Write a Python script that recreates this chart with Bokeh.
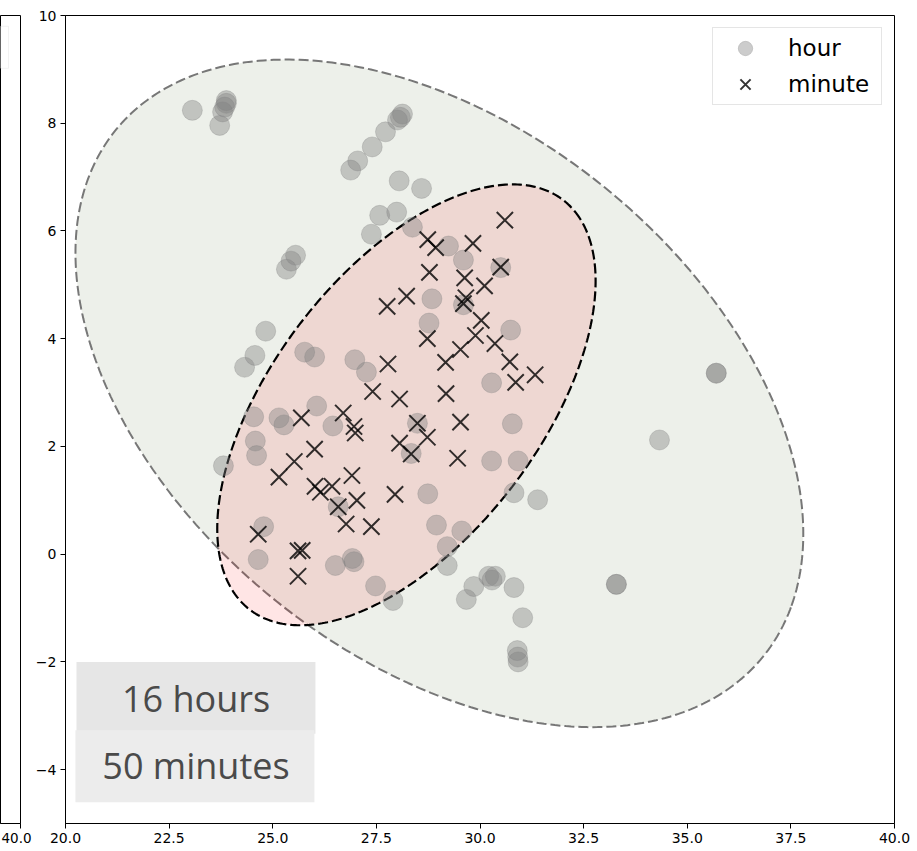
import numpy as np
from bokeh.plotting import figure
from bokeh.layouts import row
from bokeh.models import (FixedTicker, Legend, LegendItem, Label, BoxAnnotation,
                          NumeralTickFormatter, Range1d, Title)
from bokeh.embed import file_html
from bokeh.resources import INLINE

# ---------------- data ----------------
hour_x = [23.06, 23.72, 23.79, 23.84, 23.88, 23.88, 27.72, 28.01, 28.08, 28.13,
          27.40, 27.05, 26.88, 28.05, 28.59, 27.58, 27.99, 27.38, 28.37, 29.24,
          29.60, 25.55, 25.44, 25.33, 24.83, 24.57, 24.32, 25.77, 26.01, 26.98,
          27.26, 28.84, 28.77, 29.60, 30.50, 30.74, 30.28, 26.06, 24.54, 25.15,
          25.27, 26.45, 28.49, 30.78, 24.58, 24.61, 28.34, 30.28, 30.92, 23.81,
          28.74, 30.82, 31.39, 26.58, 24.78, 28.95, 29.56, 29.21, 24.65, 26.51,
          26.92, 26.96, 29.21, 27.48, 27.90, 30.21, 30.37, 30.29, 29.85, 29.67,
          30.82, 31.03, 30.90, 30.91, 30.92, 35.70, 35.70, 34.33, 33.29, 33.29]
hour_y = [8.24, 7.96, 8.21, 8.30, 8.37, 8.42, 7.84, 8.06, 8.11, 8.17,
          7.56, 7.30, 7.13, 6.93, 6.79, 6.29, 6.35, 5.94, 6.07, 5.72,
          5.46, 5.55, 5.44, 5.29, 4.14, 3.69, 3.47, 3.75, 3.66, 3.61,
          3.38, 4.74, 4.29, 4.63, 5.32, 4.16, 3.18, 2.75, 2.55, 2.53,
          2.40, 2.38, 2.43, 2.42, 2.10, 1.83, 1.87, 1.73, 1.73, 1.64,
          1.12, 1.14, 1.01, 0.88, 0.51, 0.54, 0.43, 0.14, -0.10, -0.21,
          -0.08, -0.14, -0.21, -0.59, -0.86, -0.41, -0.41, -0.48, -0.60, -0.84,
          -0.62, -1.18, -1.79, -1.91, -2.00, 3.36, 3.36, 2.12, -0.56, -0.56]

minute_x = [30.60, 28.74, 28.93, 29.83, 28.78, 29.63, 30.50, 30.11, 29.66, 29.60,
            28.23, 27.76, 30.03, 29.89, 29.53, 30.36, 28.73, 29.17, 30.72, 30.86,
            31.33, 27.78, 27.41, 28.06, 29.18, 25.69, 26.70, 26.96, 26.99, 28.49,
            29.53, 28.73, 28.06, 28.34, 29.46, 26.01, 25.52, 25.15, 26.02, 26.43,
            26.91, 26.15, 27.95, 27.03, 26.58, 26.77, 27.38, 24.65, 25.61, 25.71,
            25.61]
minute_y = [6.20, 5.84, 5.69, 5.77, 5.23, 5.13, 5.33, 4.98, 4.76, 4.65,
            4.79, 4.60, 4.34, 4.06, 3.80, 3.91, 4.00, 3.56, 3.57, 3.19,
            3.33, 3.53, 3.02, 2.88, 2.98, 2.53, 2.62, 2.37, 2.25, 2.43,
            2.45, 2.17, 2.06, 1.86, 1.78, 1.95, 1.72, 1.43, 1.26, 1.26,
            1.46, 1.15, 1.11, 1.00, 0.88, 0.56, 0.51, 0.37, 0.06, 0.07,
            -0.41]

# Gaussian ellipses: centre, full width, full height, angle (deg)
hour_ell_center = (29.02, 2.985)
hour_ell_size = (18.73, 10.54)
hour_ell_angle = -24.9
minute_ell_center = (28.225, 2.7725)
minute_ell_size = (10.86, 5.69)
minute_ell_angle = 39.5

x_ticks = [20.0, 22.5, 25.0, 27.5, 30.0, 32.5, 35.0, 37.5, 40.0]
y_ticks = [-4, -2, 0, 2, 4, 6, 8, 10]
series_names = ["hour", "minute"]
caption_lines = ["16 hours", "50 minutes"]
neighbour_tick = 40.0
neighbour_tick_label = "40.0"


def ellipse_outline(center, size, angle_deg, n=400):
    t = np.linspace(0, 2 * np.pi, n)
    a = np.deg2rad(angle_deg)
    ex = size[0] / 2 * np.cos(t)
    ey = size[1] / 2 * np.sin(t)
    xs = center[0] + ex * np.cos(a) - ey * np.sin(a)
    ys = center[1] + ex * np.sin(a) + ey * np.cos(a)
    return xs, ys


def style_axis(ax):
    ax.axis_line_color = "black"
    ax.axis_line_width = 1
    ax.major_tick_line_color = "black"
    ax.major_tick_out = 5
    ax.major_tick_in = 0
    ax.minor_tick_line_color = None
    ax.major_label_text_font = "DejaVu Sans"
    ax.major_label_text_font_size = "14px"
    ax.major_label_text_color = "black"
    ax.major_label_standoff = 4


# ---------------- main figure ----------------
p = figure(width=885, height=851, x_range=Range1d(20, 40), y_range=Range1d(-5, 10),
           output_backend="svg", toolbar_location=None,
           min_border_left=33, min_border_right=23, min_border_top=15, min_border_bottom=28)
p.grid.visible = False
p.outline_line_color = "black"
p.outline_line_width = 1
p.background_fill_color = "white"
p.border_fill_color = "white"

style_axis(p.xaxis[0])
style_axis(p.yaxis[0])
p.xaxis.ticker = FixedTicker(ticks=x_ticks)
p.xaxis.formatter = NumeralTickFormatter(format="0.0")
p.yaxis.ticker = FixedTicker(ticks=y_ticks)
p.yaxis.major_label_overrides = {-4: "\u22124", -2: "\u22122"}

hx, hy = ellipse_outline(hour_ell_center, hour_ell_size, hour_ell_angle)
p.patch(hx, hy, fill_color="#edf0ea", fill_alpha=1.0,
        line_color="#777777", line_width=2, line_dash="10 4")
mx, my = ellipse_outline(minute_ell_center, minute_ell_size, minute_ell_angle)
p.patch(mx, my, fill_color="red", fill_alpha=0.1,
        line_color="black", line_width=2.2, line_dash="10 4")

r_hour = p.scatter(hour_x, hour_y, marker="circle", size=20,
                   fill_color="grey", fill_alpha=0.4, line_color="grey", line_alpha=0.3)
r_min = p.scatter(minute_x, minute_y, marker="x", size=23,
                  line_color="black", line_alpha=0.8, line_width=2)

legend = Legend(items=[LegendItem(label=series_names[0], renderers=[r_hour]),
                       LegendItem(label=series_names[1], renderers=[r_min])],
                location="top_right", margin=12, padding=2, spacing=-1,
                glyph_width=60, glyph_height=36, label_height=36, label_width=91,
                label_standoff=13,
                label_text_font="DejaVu Sans", label_text_font_size="23px",
                label_text_color="black",
                border_line_color="#cccccc", border_line_width=1,
                background_fill_color="white", background_fill_alpha=0.8)
p.add_layout(legend)

# caption boxes
p.add_layout(BoxAnnotation(left=20.265, right=26.03, top=-2.002, bottom=-3.333,
                           fill_color="#e6e6e6", fill_alpha=1, line_color=None))
p.add_layout(BoxAnnotation(left=20.24, right=26.005, top=-3.271, bottom=-4.604,
                           fill_color="#ececec", fill_alpha=1, line_color=None))
p.add_layout(Label(x=23.148, y=-2.68, text=caption_lines[0], text_align="center",
                   text_baseline="alphabetic", text_font="Open Sans",
                   text_font_size="36px", text_color="#4a4a4a"))
p.add_layout(Label(x=23.148, y=-3.93, text=caption_lines[1], text_align="center",
                   text_baseline="alphabetic", text_font="Open Sans",
                   text_font_size="36px", text_color="#4a4a4a"))

# ---------------- left sliver (edge of the neighbouring subplot) ----------------
pl = figure(width=32, height=851, x_range=Range1d(20, 40), y_range=Range1d(-5, 10),
            output_backend="svg", toolbar_location=None,
            min_border_left=0, min_border_right=12, min_border_top=15, min_border_bottom=28)
pl.grid.visible = False
pl.yaxis.visible = False
pl.outline_line_color = "black"
pl.outline_line_width = 1
xa = pl.xaxis[0]
xa.ticker = FixedTicker(ticks=[], minor_ticks=[neighbour_tick])
xa.axis_line_color = "black"
xa.major_tick_line_color = None
xa.minor_tick_line_color = "black"
xa.minor_tick_out = 5
xa.minor_tick_in = 0
xa.major_label_standoff = 0
pl.add_layout(BoxAnnotation(left=10, right=28, top=9.80, bottom=9.02,
                            fill_color="white", fill_alpha=0.8,
                            line_color="#d5d5d5", line_width=1))
pl.add_layout(Title(text=neighbour_tick_label, align="left", offset=1, standoff=4,
                    text_font="DejaVu Sans", text_font_size="13.5px",
                    text_font_style="normal", text_color="black"), "below")

layout = row(pl, p)
open("out.html", "w").write(file_html(layout, INLINE))
